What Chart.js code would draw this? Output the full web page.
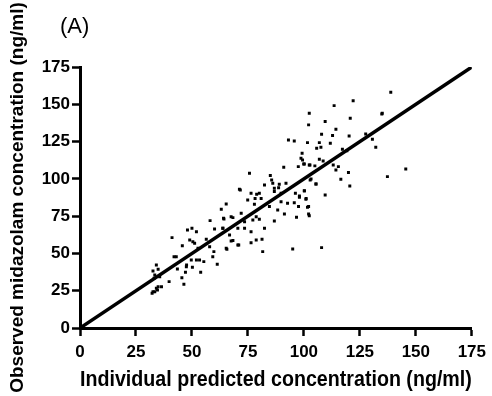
<!DOCTYPE html>
<html>
<head>
<meta charset="utf-8">
<script src="https://cdn.jsdelivr.net/npm/chart.js@4"></script>
<style>
html,body{margin:0;padding:0;background:#fff;}
#wrap{position:relative;width:492px;height:396px;}
</style>
</head>
<body>
<div id="wrap"><canvas id="c" width="492" height="396"></canvas></div>
<script>
const panelLabel = "(A)";
const xTitle = "Individual predicted concentration (ng/ml)";
const yTitle = "Observed midazolam concentration (ng/ml)";
const tickValues = [0, 25, 50, 75, 100, 125, 150, 175];
const identityX = [0, 175];
const identityY = [0, 175];

const predX = [
58.1,64.3,68.3,48.0,50.0,52.0,60.1,63.8,41.1,49.0,50.4,51.2,56.4,45.7,52.7,57.9,59.8,65.3,67.5,70.9,
42.0,43.0,47.6,49.7,52.0,53.4,55.3,59.3,61.3,43.5,47.5,50.2,53.9,47.1,45.5,39.8,46.4,32.6,34.1,34.9,
33.1,35.6,34.9,33.4,32.2,34.6,33.4,36.4,34.1,32.6,
75.7,85.0,91.0,97.5,99.9,102.4,82.4,86.1,89.0,92.0,86.8,88.7,71.6,76.4,78.9,80.1,74.9,78.2,80.9,86.8,
89.8,96.2,98.0,100.2,103.2,105.4,65.3,63.1,77.9,84.6,89.8,92.7,95.7,97.6,100.9,101.6,88.3,91.3,102.1,96.7,
72.0,64.1,67.5,78.7,80.1,73.5,77.2,86.8,70.5,73.5,76.4,82.4,63.8,66.8,68.3,70.5,76.4,78.7,81.3,65.6,
81.6,95.0,71.2,85.6,93.1,95.7,
102.4,120.7,134.8,102.1,109.5,114.3,107.9,112.8,120.2,127.6,130.6,101.6,106.9,107.6,105.7,111.8,132.1,117.2,119.2,99.2,
98.7,99.4,106.9,108.6,100.2,102.7,104.9,113.1,114.3,115.4,119.9,116.5,137.3,120.5,102.8,105.4,100.2,109.5,101.0,102.1,
138.8,113.5,122.0,135.0,145.5,98.0,102.4,107.9
];
const obsY = [
72.0,73.1,74.0,65.7,66.9,64.6,66.4,66.9,60.6,59.0,57.9,56.8,59.5,55.2,53.5,54.5,51.2,53.5,58.3,55.7,
47.8,47.8,42.3,45.6,45.6,45.6,44.5,47.8,42.7,39.6,41.1,40.7,37.4,37.4,33.7,31.1,29.3,38.2,42.3,39.4,
33.3,34.4,27.7,24.3,23.3,25.5,35.5,27.7,26.6,24.3,
103.7,102.2,107.8,108.2,110.0,109.3,95.9,97.0,96.4,97.0,93.7,94.1,92.6,90.3,89.7,90.3,85.8,86.9,86.9,91.5,
90.3,90.3,88.5,92.1,99.9,96.6,83.2,79.6,83.0,81.4,84.7,83.6,84.0,81.4,86.3,80.9,79.1,76.4,76.4,74.2,
76.9,73.6,74.6,74.6,72.9,71.3,72.4,71.8,66.9,66.9,64.6,66.9,66.9,62.4,58.6,55.7,57.2,59.0,59.5,52.8,
51.2,53.0,93.0,99.3,126.1,125.4,
144.0,140.6,143.5,136.2,138.4,133.3,129.9,129.0,128.8,130.1,126.6,124.3,124.3,121.2,120.5,123.9,121.2,119.9,118.9,117.2,
113.8,112.7,113.1,112.0,110.0,109.3,108.7,109.3,106.0,108.2,104.2,99.7,101.5,95.2,99.3,96.6,91.9,89.2,86.9,81.4,
158.1,149.1,152.4,144.0,106.6,87.7,75.3,53.9
];

const points = predX.map((x, i) => ({x: x, y: obsY[i]}));
const linePts = identityX.map((x, i) => ({x: x, y: identityY[i]}));

const FONT = "'Liberation Sans', Arial, Helvetica, sans-serif";

const labelPlugin = {
  id: 'panelLabel',
  afterDraw(chart) {
    const ctx = chart.ctx;
    ctx.save();
    ctx.fillStyle = '#000';
    ctx.font = "22px " + FONT;
    ctx.textBaseline = 'middle';
    ctx.textAlign = 'left';
    ctx.fillText(panelLabel, 60, 27);
    ctx.restore();
  }
};

new Chart(document.getElementById('c'), {
  type: 'scatter',
  data: {
    datasets: [
      {
        type: 'line',
        data: linePts,
        borderColor: '#000',
        borderWidth: 3.5,
        pointRadius: 0,
        fill: false,
        order: 1
      },
      {
        type: 'scatter',
        data: points,
        pointStyle: 'rect',
        pointRadius: 2.1,
        pointBorderWidth: 0,
        pointBackgroundColor: '#000',
        backgroundColor: '#000',
        order: 2
      }
    ]
  },
  options: {
    responsive: false,
    animation: false,
    events: [],
    layout: { padding: { left: 0, top: 67, right: 19, bottom: 0 } },
    plugins: { legend: { display: false }, tooltip: { enabled: false } },
    scales: {
      x: {
        type: 'linear',
        min: 0, max: 175,
        afterBuildTicks: (s) => { s.ticks = tickValues.map(v => ({value: v})); },
        afterFit: (s) => { s.height = 68; },
        border: { display: true, color: '#000', width: 3 },
        grid: { display: true, drawOnChartArea: false, drawTicks: true, tickLength: 8, tickWidth: 2.5, color: '#000' },
        ticks: { color: '#000', font: { family: FONT, size: 17, weight: 'bold' }, padding: 6, maxRotation: 0, autoSkip: false },
        title: { display: true, text: xTitle, color: '#000', font: { family: FONT, size: 22, weight: 'bold' }, padding: { top: 0, bottom: 3 } }
      },
      y: {
        type: 'linear',
        min: 0, max: 175,
        afterBuildTicks: (s) => { s.ticks = tickValues.map(v => ({value: v})); },
        afterFit: (s) => { s.width = 80; },
        border: { display: true, color: '#000', width: 3 },
        grid: { display: true, drawOnChartArea: false, drawTicks: true, tickLength: 8, tickWidth: 2.5, color: '#000' },
        ticks: { color: '#000', font: { family: FONT, size: 17, weight: 'bold' }, padding: 2, autoSkip: false },
        title: { display: true, text: yTitle, color: '#000', font: { family: FONT, size: 19, weight: 'bold' }, padding: { top: 6, bottom: 0 } }
      }
    }
  },
  plugins: [labelPlugin]
});
</script>
</body>
</html>
